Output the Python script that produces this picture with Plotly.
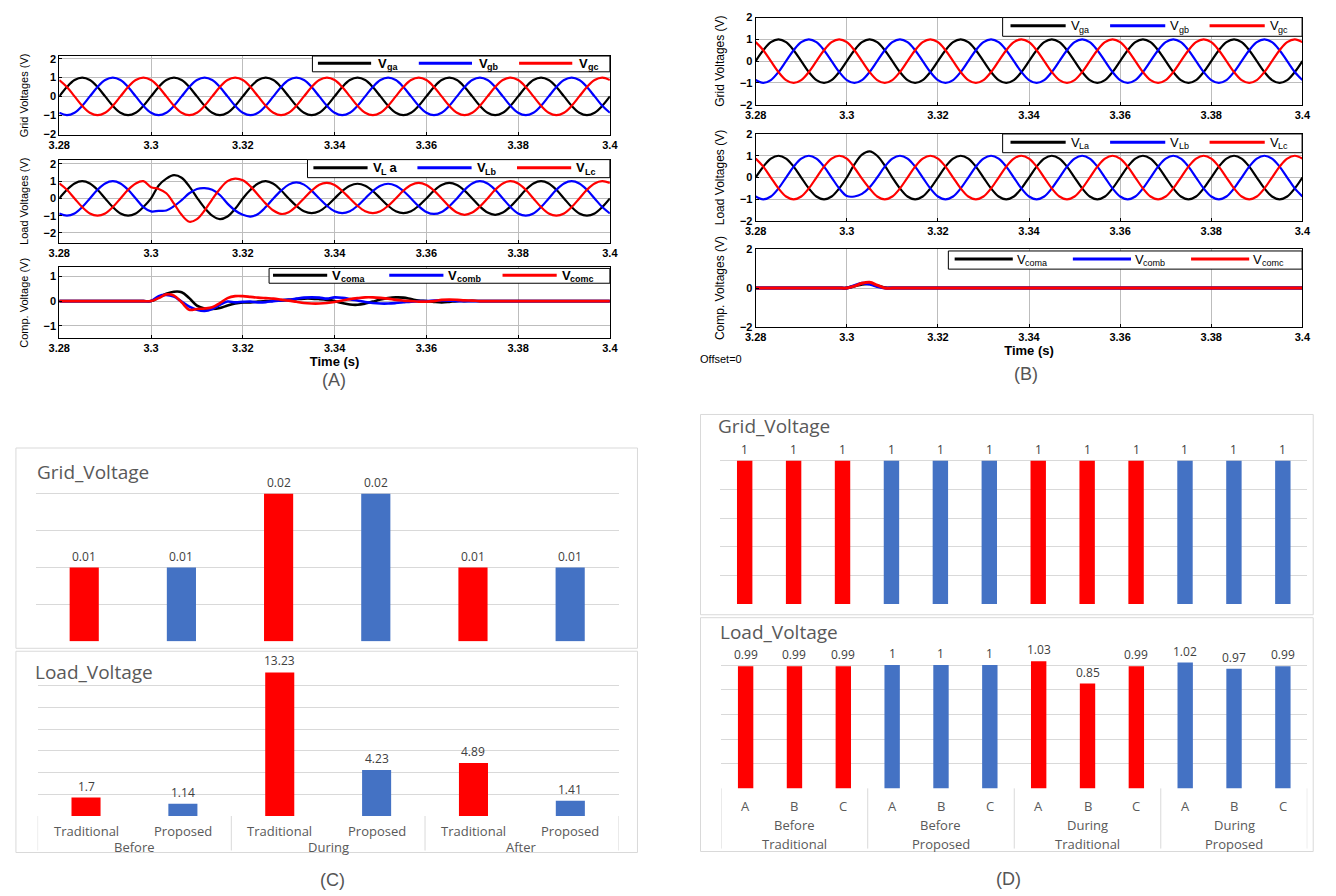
import itertools
import plotly.graph_objects as go

W, H = 1336, 896


def px(x):
    return x / W


def py(y):
    return 1 - y / H


# ---------------------------------------------------------------- waveform data
# sample clock: 3.28 s .. 3.40 s, 600 samples per second (30 deg of a 50 Hz cycle)
t = [round(3.28 + k / 600, 6) for k in range(73)]

x_ticks = [3.28, 3.30, 3.32, 3.34, 3.36, 3.38, 3.40]
x_tick_text = ["3.28", "3.3", "3.32", "3.34", "3.36", "3.38", "3.4"]

grid_va = [0, .5, .87, 1, .87, .5, 0, -.5, -.87, -1, -.87, -.5,
           0, .5, .87, 1, .87, .5, 0, -.5, -.87, -1, -.87, -.5,
           0, .5, .87, 1, .87, .5, 0, -.5, -.87, -1, -.87, -.5,
           0, .5, .87, 1, .87, .5, 0, -.5, -.87, -1, -.87, -.5,
           0, .5, .87, 1, .87, .5, 0, -.5, -.87, -1, -.87, -.5,
           0, .5, .87, 1, .87, .5, 0, -.5, -.87, -1, -.87, -.5,
           0]
grid_vb = [-.87, -1, -.87, -.5, 0, .5, .87, 1, .87, .5, 0, -.5,
           -.87, -1, -.87, -.5, 0, .5, .87, 1, .87, .5, 0, -.5,
           -.87, -1, -.87, -.5, 0, .5, .87, 1, .87, .5, 0, -.5,
           -.87, -1, -.87, -.5, 0, .5, .87, 1, .87, .5, 0, -.5,
           -.87, -1, -.87, -.5, 0, .5, .87, 1, .87, .5, 0, -.5,
           -.87, -1, -.87, -.5, 0, .5, .87, 1, .87, .5, 0, -.5,
           -.87]
grid_vc = [.87, .5, 0, -.5, -.87, -1, -.87, -.5, 0, .5, .87, 1,
           .87, .5, 0, -.5, -.87, -1, -.87, -.5, 0, .5, .87, 1,
           .87, .5, 0, -.5, -.87, -1, -.87, -.5, 0, .5, .87, 1,
           .87, .5, 0, -.5, -.87, -1, -.87, -.5, 0, .5, .87, 1,
           .87, .5, 0, -.5, -.87, -1, -.87, -.5, 0, .5, .87, 1,
           .87, .5, 0, -.5, -.87, -1, -.87, -.5, 0, .5, .87, 1,
           .87]

# load voltages, traditional compensator
load_trad_a = [0, .5, .87, 1, .87, .5, 0, -.5, -.87, -1, -.87, -.5,
               0, .75, 1.15, 1.35, 1.2, .7, .05, -.55, -1.0, -1.2, -1.05, -.6,
               0, .5, .87, 1, .85, .47, 0, -.43, -.74, -.85, -.74, -.43,
               0, .43, .74, .85, .74, .43, 0, -.43, -.74, -.85, -.74, -.43,
               0, .45, .78, .9, .78, .45, 0, -.47, -.82, -.95, -.82, -.47,
               0, .5, .87, 1, .87, .5, 0, -.5, -.87, -1, -.87, -.5,
               0]
load_trad_b = [-.87, -1, -.87, -.5, 0, .5, .87, 1, .87, .5, 0, -.5,
               -.75, -.72, -.7, -.45, -.1, .3, .55, .6, .5, .2, -.3, -.7,
               -.95, -1.05, -.9, -.5, 0, .45, .8, .93, .8, .45, 0, -.43,
               -.74, -.85, -.74, -.43, 0, .43, .74, .85, .74, .43, 0, -.45,
               -.78, -.9, -.78, -.45, 0, .5, .87, 1, .87, .5, 0, -.5,
               -.87, -1, -.87, -.5, 0, .5, .87, 1, .87, .5, 0, -.5,
               -.87]
load_trad_c = [.87, .5, 0, -.5, -.87, -1, -.87, -.5, 0, .5, .87, 1,
               .65, .55, .3, -.3, -.95, -1.35, -1.2, -.7, -.05, .55, 1.0, 1.15,
               1.05, .7, .2, -.3, -.7, -.9, -.8, -.45, 0, .45, .8, .9,
               .78, .43, 0, -.43, -.74, -.85, -.74, -.43, 0, .45, .78, .9,
               .78, .45, 0, -.47, -.82, -.95, -.82, -.47, 0, .5, .87, 1,
               .87, .5, 0, -.5, -.87, -1, -.87, -.5, 0, .5, .87, 1,
               .9]

# load voltages, proposed compensator
load_prop_a = [0, .5, .87, 1, .87, .5, 0, -.5, -.87, -1, -.87, -.5,
               0, .6, 1.05, 1.2, 1.0, .55, 0, -.5, -.87, -1, -.87, -.5,
               0, .5, .87, 1, .87, .5, 0, -.5, -.87, -1, -.87, -.5,
               0, .5, .87, 1, .87, .5, 0, -.5, -.87, -1, -.87, -.5,
               0, .5, .87, 1, .87, .5, 0, -.5, -.87, -1, -.87, -.5,
               0, .5, .87, 1, .87, .5, 0, -.5, -.87, -1, -.87, -.5,
               0]
load_prop_b = [-.87, -1, -.87, -.5, 0, .5, .87, 1, .87, .5, 0, -.5,
               -.85, -.87, -.75, -.45, 0, .5, .87, 1, .87, .5, 0, -.5,
               -.87, -1, -.87, -.5, 0, .5, .87, 1, .87, .5, 0, -.5,
               -.87, -1, -.87, -.5, 0, .5, .87, 1, .87, .5, 0, -.5,
               -.87, -1, -.87, -.5, 0, .5, .87, 1, .87, .5, 0, -.5,
               -.87, -1, -.87, -.5, 0, .5, .87, 1, .87, .5, 0, -.5,
               -.87]
load_prop_c = [.87, .5, 0, -.5, -.87, -1, -.87, -.5, 0, .5, .87, 1,
               .87, .45, -.05, -.5, -.87, -1, -.87, -.5, 0, .5, .87, 1,
               .87, .5, 0, -.5, -.87, -1, -.87, -.5, 0, .5, .87, 1,
               .87, .5, 0, -.5, -.87, -1, -.87, -.5, 0, .5, .87, 1,
               .87, .5, 0, -.5, -.87, -1, -.87, -.5, 0, .5, .87, 1,
               .87, .5, 0, -.5, -.87, -1, -.87, -.5, 0, .5, .87, 1,
               .87]

# compensator voltages, traditional
comp_trad_a = [0, 0, 0, 0, 0, 0, 0, 0, 0, 0, 0, 0,
               0, .15, .3, .38, .36, .12, -.18, -.3, -.32, -.28, -.18, -.1,
               -.06, -.05, -.02, 0, .02, .03, .05, .08, .1, .1, .08, .05,
               0, -.08, -.14, -.15, -.1, -.02, .06, .12, .15, .14, .08, .02,
               0, -.03, -.05, -.03, 0, 0, .01, 0, 0, 0, 0, 0,
               0, 0, 0, 0, 0, 0, 0, 0, 0, 0, 0, 0,
               0]
comp_trad_b = [0, 0, 0, 0, 0, 0, 0, 0, 0, 0, 0, 0,
               0, .2, .25, .18, -.02, -.22, -.35, -.4, -.32, -.15, -.02, -.05,
               -.03, -.02, -.05, -.04, 0, .03, .06, .1, .14, .15, .14, .1,
               .15, .13, .08, .02, -.04, -.08, -.1, -.1, -.08, -.05, -.02, 0,
               0, .02, .03, .02, 0, 0, 0, 0, 0, 0, 0, 0,
               0, 0, 0, 0, 0, 0, 0, 0, 0, 0, 0, 0,
               0]
comp_trad_c = [0, 0, 0, 0, 0, 0, 0, 0, 0, 0, 0, 0,
               0, .12, .27, .22, -.05, -.35, -.32, -.3, -.25, -.08, .12, .2,
               .2, .17, .14, .12, .1, .06, .02, -.03, -.08, -.1, -.1, -.08,
               -.04, .02, .08, .12, .15, .15, .13, .1, .05, .02, 0, -.02,
               -.02, 0, .05, .06, .05, .03, .02, 0, 0, 0, 0, 0,
               0, 0, 0, 0, 0, 0, 0, 0, 0, 0, 0, 0,
               0]

# compensator voltages, proposed
comp_prop_a = [0, 0, 0, 0, 0, 0, 0, 0, 0, 0, 0, 0,
               0, .1, .2, .22, .12, .02, 0, 0, 0, 0, 0, 0,
               0, 0, 0, 0, 0, 0, 0, 0, 0, 0, 0, 0,
               0, 0, 0, 0, 0, 0, 0, 0, 0, 0, 0, 0,
               0, 0, 0, 0, 0, 0, 0, 0, 0, 0, 0, 0,
               0, 0, 0, 0, 0, 0, 0, 0, 0, 0, 0, 0,
               0]
comp_prop_b = [0, 0, 0, 0, 0, 0, 0, 0, 0, 0, 0, 0,
               0, .12, .25, .2, .08, 0, 0, 0, 0, 0, 0, 0,
               0, 0, 0, 0, 0, 0, 0, 0, 0, 0, 0, 0,
               0, 0, 0, 0, 0, 0, 0, 0, 0, 0, 0, 0,
               0, 0, 0, 0, 0, 0, 0, 0, 0, 0, 0, 0,
               0, 0, 0, 0, 0, 0, 0, 0, 0, 0, 0, 0,
               0]
comp_prop_c = [0, 0, 0, 0, 0, 0, 0, 0, 0, 0, 0, 0,
               0, .1, .25, .3, .15, 0, 0, 0, 0, 0, 0, 0,
               0, 0, 0, 0, 0, 0, 0, 0, 0, 0, 0, 0,
               0, 0, 0, 0, 0, 0, 0, 0, 0, 0, 0, 0,
               0, 0, 0, 0, 0, 0, 0, 0, 0, 0, 0, 0,
               0, 0, 0, 0, 0, 0, 0, 0, 0, 0, 0, 0,
               0]

# legend labels: (main text, subscript, trailing text)
grid_labels = [("V", "ga", ""), ("V", "gb", ""), ("V", "gc", "")]
load_labels_trad = [("V", "L", " a"), ("V", "Lb", ""), ("V", "Lc", "")]
load_labels_prop = [("V", "La", ""), ("V", "Lb", ""), ("V", "Lc", "")]
comp_labels = [("V", "coma", ""), ("V", "comb", ""), ("V", "comc", "")]

# ---------------------------------------------------------------- bar data
c_period = ["Before", "Before", "During", "During", "After", "After"]
c_method = ["Traditional", "Proposed", "Traditional", "Proposed", "Traditional", "Proposed"]
c_grid_thd = [0.01, 0.01, 0.02, 0.02, 0.01, 0.01]
c_load_thd = [1.7, 1.14, 13.23, 4.23, 4.89, 1.41]

d_method = ["Traditional", "Traditional", "Traditional", "Proposed", "Proposed", "Proposed",
            "Traditional", "Traditional", "Traditional", "Proposed", "Proposed", "Proposed"]
d_period = ["Before", "Before", "Before", "Before", "Before", "Before",
            "During", "During", "During", "During", "During", "During"]
d_phase = ["A", "B", "C", "A", "B", "C", "A", "B", "C", "A", "B", "C"]
d_grid_mag = [1, 1, 1, 1, 1, 1, 1, 1, 1, 1, 1, 1]
d_load_mag = [0.99, 0.99, 0.99, 1, 1, 1, 1.03, 0.85, 0.99, 1.02, 0.97, 0.99]

method_color = {"Traditional": "#ff0000", "Proposed": "#4472c4"}
phase_color = ["#000000", "#0000ff", "#ff0000"]

# ---------------------------------------------------------------- figure
fig = go.Figure()
layout = {}
shapes = []
annotations = []

SANS = "Liberation Sans, Arial, sans-serif"
OFFICE = "Open Sans, Lato, sans-serif"
GRIDC = "#bdbdbd"

# Arial advance widths (em) used to place subscript pieces
ADV_REG = {"V": .667, "L": .556, "g": .556, "a": .556, "b": .556, "c": .5, "o": .556, "m": .833, " ": .278}
ADV_BOLD = {"V": .667, "L": .611, "g": .611, "a": .556, "b": .611, "c": .556, "o": .611, "m": .889, " ": .278}


def text_width(s, size, bold):
    adv = ADV_BOLD if bold else ADV_REG
    return sum(adv.get(ch, .56) for ch in s) * size


def refs(n):
    return ("x" if n == 1 else f"x{n}", "y" if n == 1 else f"y{n}")


def key(n, a):
    return a + ("" if n == 1 else str(n))


def time_panel(n, xpx, ypx, yrange, yticks, ytitle, tickfont, titlefont, xtitle):
    xr, yr = refs(n)
    layout[key(n, "xaxis")] = dict(
        domain=[px(xpx[0]), px(xpx[1])], anchor=yr, range=[3.28, 3.4],
        tickvals=x_ticks, ticktext=x_tick_text, tickfont=tickfont,
        showgrid=True, gridcolor=GRIDC, gridwidth=1, zeroline=False,
        showline=True, mirror=True, linecolor="black", linewidth=1,
        ticks="inside", ticklen=3, tickcolor="black",
        title=dict(text=xtitle, font=dict(family=SANS, size=13, weight="bold", color="black"),
                   standoff=2) if xtitle else None,
    )
    layout[key(n, "yaxis")] = dict(
        domain=[py(ypx[1]), py(ypx[0])], anchor=xr, range=yrange,
        tickvals=yticks, tickfont=tickfont,
        showgrid=True, gridcolor=GRIDC, gridwidth=1, zeroline=False,
        showline=True, mirror=True, linecolor="black", linewidth=1,
        ticks="inside", ticklen=3, tickcolor="black",
        title=dict(text=ytitle, font=titlefont, standoff=12),
    )


def waves(n, series, width):
    xr, yr = refs(n)
    for vals, col in zip(series, phase_color):
        fig.add_trace(go.Scatter(
            x=t, y=vals, xaxis=xr, yaxis=yr, mode="lines",
            line=dict(color=col, width=width, shape="spline", smoothing=1),
            showlegend=False, hoverinfo="skip"))


def piece(text, x, y, size, bold):
    annotations.append(dict(text=text, xref="paper", yref="paper", x=px(x), y=py(y),
                            xanchor="left", yanchor="middle", showarrow=False,
                            borderpad=0, borderwidth=0,
                            font=dict(family=SANS, size=size, color="black",
                                      weight="bold" if bold else "normal")))


def legend_box(box, y_mid, starts, line_len, text_dx, labels, size, bold):
    x0, x1, y0, y1 = box
    shapes.append(dict(type="rect", xref="paper", yref="paper",
                       x0=px(x0), x1=px(x1), y0=py(y1), y1=py(y0),
                       line=dict(color="black", width=1), fillcolor="white", layer="above"))
    sub = round(size * 0.72)
    for s, (main, low, tail), col in zip(starts, labels, phase_color):
        shapes.append(dict(type="line", xref="paper", yref="paper",
                           x0=px(s), x1=px(s + line_len), y0=py(y_mid), y1=py(y_mid),
                           line=dict(color=col, width=3), layer="above"))
        cx = s + text_dx
        piece(main, cx, y_mid, size, bold)
        cx += text_width(main, size, bold)
        piece(low, cx, y_mid + 4, sub, bold)
        cx += text_width(low, sub, bold)
        if tail:
            piece(tail, cx, y_mid, size, bold)


# panel A (traditional)
tfA = dict(family=SANS, size=11, weight="bold", color="black")
ytA = dict(family=SANS, size=11, color="black")
time_panel(1, (49, 608), (50.7, 130.7), [-2.05, 2.15], [-2, -1, 0, 1, 2], "Grid Voltages (V)", tfA, ytA, None)
time_panel(2, (49, 608), (155.7, 240), [-2.57, 2.25], [-2, -1, 0, 1, 2], "Load Voltages (V)", tfA, ytA, None)
time_panel(3, (49, 608), (265, 336.7), [-1.5, 1.36], [-1, 0, 1], "Comp. Voltage (V)", tfA, ytA, "Time (s)")
waves(1, [grid_va, grid_vb, grid_vc], 2.2)
waves(2, [load_trad_a, load_trad_b, load_trad_c], 2.2)
waves(3, [comp_trad_a, comp_trad_b, comp_trad_c], 2.6)

legend_box((306, 608, 50.7, 66.7), 58, [311.6, 414, 515.8], 54, 61, grid_labels, 13, True)
legend_box((301, 608, 155.7, 174), 164, [307, 412.6, 513.7], 55, 60, load_labels_trad, 13, True)
legend_box((262, 608, 266, 281), 273, [266, 384, 499], 55, 60, comp_labels, 13, True)

# panel B (proposed)
tfB = dict(family=SANS, size=11, weight="bold", color="black")
ytB = dict(family=SANS, size=12, color="black")
time_panel(4, (756, 1311), (11.7, 100), [-2, 2], [-2, -1, 0, 1, 2], "Grid Voltages (V)", tfB, ytB, None)
time_panel(5, (756, 1311), (129.7, 218), [-2, 2], [-2, -1, 0, 1, 2], "Load Voltages (V)", tfB, ytB, None)
time_panel(6, (756, 1311), (246.7, 325), [-2, 2], [-2, 0, 2], "Comp. Voltages (V)", tfB, ytB, "Time (s)")
waves(4, [grid_va, grid_vb, grid_vc], 2.2)
waves(5, [load_prop_a, load_prop_b, load_prop_c], 2.2)
waves(6, [comp_prop_a, comp_prop_b, comp_prop_c], 3)

legend_box((1006.7, 1310.7, 11.7, 30.7), 20, [1014.7, 1115.8, 1216.8], 56, 61, grid_labels, 13, False)
legend_box((1006.7, 1310.7, 129.7, 148.7), 138, [1014.7, 1115.8, 1216.8], 56, 61, load_labels_prop, 13, False)
legend_box((951.6, 1310.7, 248.3, 266.7), 256.5, [958, 1078, 1198], 59, 63, comp_labels, 13, False)

annotations.append(dict(text="Offset=0", xref="paper", yref="paper", x=px(697), y=py(358),
                        xanchor="left", yanchor="middle", showarrow=False,
                        font=dict(family=SANS, size=11, color="black")))

# ---------------------------------------------------------------- bar panels
LABC = "#595959"
val_font = dict(family=OFFICE, size=12, color="#404040")


def bar_panel(n, xpx, ypx, yrange, dtick, cats, vals, colors, width, title, title_px):
    xr, yr = refs(n)
    layout[key(n, "xaxis")] = dict(
        domain=[px(xpx[0]), px(xpx[1])], anchor=yr, type="category",
        range=[-0.5, len(cats) - 0.5], showticklabels=False, showgrid=False,
        zeroline=False, showline=False, ticks="")
    layout[key(n, "yaxis")] = dict(
        domain=[py(ypx[1]), py(ypx[0])], anchor=xr, range=yrange, dtick=dtick,
        showticklabels=False, showgrid=True, gridcolor="#d9d9d9", gridwidth=1,
        zeroline=False, showline=False, ticks="")
    fig.add_trace(go.Bar(
        x=cats, y=vals, xaxis=xr, yaxis=yr, marker=dict(color=colors, line=dict(width=0)),
        width=width, showlegend=False, hoverinfo="skip"))
    # value labels sit on top of each bar
    for i, v in enumerate(vals):
        annotations.append(dict(text=f"{v:g}", xref=xr, yref=yr, x=i, y=v,
                                xanchor="center", yanchor="bottom", yshift=1,
                                showarrow=False, font=val_font))
    annotations.append(dict(text=title, xref="paper", yref="paper", x=px(title_px[0]), y=py(title_px[1]),
                            xanchor="left", yanchor="middle", showarrow=False,
                            font=dict(family=OFFICE, size=19, color=LABC)))


def groups(labels):
    out, i = [], 0
    for lab, g in itertools.groupby(labels):
        m = len(list(g))
        out.append((lab, i, i + m - 1))
        i += m
    return out


# frames around the spreadsheet charts
for x0, y0, x1, y1 in [(5, 448, 636, 651), (5, 654, 636, 858),
                       (700, 414, 1322, 617), (700, 620, 1322, 857)]:
    shapes.append(dict(type="rect", xref="paper", yref="paper", x0=px(x0), x1=px(x1),
                       y0=py(y1), y1=py(y0), line=dict(color="#d9d9d9", width=1), layer="below"))

# panel C
c_keys = [f"{p} {m}" for p, m in zip(c_period, c_method)]
c_colors = [method_color[m] for m in c_method]
bar_panel(7, (25, 617), (457, 644), [0, 0.025], 0.005, c_keys, c_grid_thd, c_colors, 0.3,
          "Grid_Voltage", (24, 472))
bar_panel(8, (27, 617), (667, 821), [0, 14], 2, c_keys, c_load_thd, c_colors, 0.3,
          "Load_Voltage", (22, 675))

cat_font = dict(family=OFFICE, size=13, color=LABC)
for i, m in enumerate(c_method):
    annotations.append(dict(text=m, xref="x8", yref="paper", x=i, y=py(836),
                            xanchor="center", yanchor="middle", showarrow=False, font=cat_font))
bounds = [-0.5]
for lab, a, b in groups(c_period):
    annotations.append(dict(text=lab, xref="x8", yref="paper", x=(a + b) / 2, y=py(852),
                            xanchor="center", yanchor="middle", showarrow=False, font=cat_font))
    bounds.append(b + 0.5)
for xb in bounds:
    shapes.append(dict(type="line", xref="x8", yref="paper", x0=xb, x1=xb, y0=py(821), y1=py(856),
                       line=dict(color="#d9d9d9", width=1)))

# panel D
d_keys = [f"{p} {m} {ph}" for p, m, ph in zip(d_period, d_method, d_phase)]
d_colors = [method_color[m] for m in d_method]
bar_panel(9, (720, 1316), (432, 606), [0, 1.2], 0.2, d_keys, d_grid_mag, d_colors, 0.315,
          "Grid_Voltage", (716, 426))
bar_panel(10, (721, 1316), (643, 793), [0, 1.2], 0.2, d_keys, d_load_mag, d_colors, 0.315,
          "Load_Voltage", (718, 634))

for i, ph in enumerate(d_phase):
    annotations.append(dict(text=ph, xref="x10", yref="paper", x=i, y=py(811),
                            xanchor="center", yanchor="middle", showarrow=False, font=cat_font))
bounds = [-0.5]
for (p, m), a, b in groups(list(zip(d_period, d_method))):
    for lab, yy in ((p, 830), (m, 849)):
        annotations.append(dict(text=lab, xref="x10", yref="paper", x=(a + b) / 2, y=py(yy),
                                xanchor="center", yanchor="middle", showarrow=False, font=cat_font))
    bounds.append(b + 0.5)
for xb in bounds:
    shapes.append(dict(type="line", xref="x10", yref="paper", x0=xb, x1=xb, y0=py(793), y1=py(854),
                       line=dict(color="#d9d9d9", width=1)))

# panel letters
for lab, x, y in [("(A)", 328, 379), ("(B)", 1030, 373), ("(C)", 326, 886), ("(D)", 1013, 885)]:
    annotations.append(dict(text=lab, xref="paper", yref="paper", x=px(x), y=py(y),
                            xanchor="center", yanchor="middle", showarrow=False,
                            font=dict(family=SANS, size=18, color="#555555")))

fig.update_layout(
    width=W, height=H, margin=dict(l=0, r=0, t=0, b=0),
    paper_bgcolor="white", plot_bgcolor="white",
    showlegend=False, shapes=shapes, annotations=annotations, **layout)

fig.write_html("out.html")
